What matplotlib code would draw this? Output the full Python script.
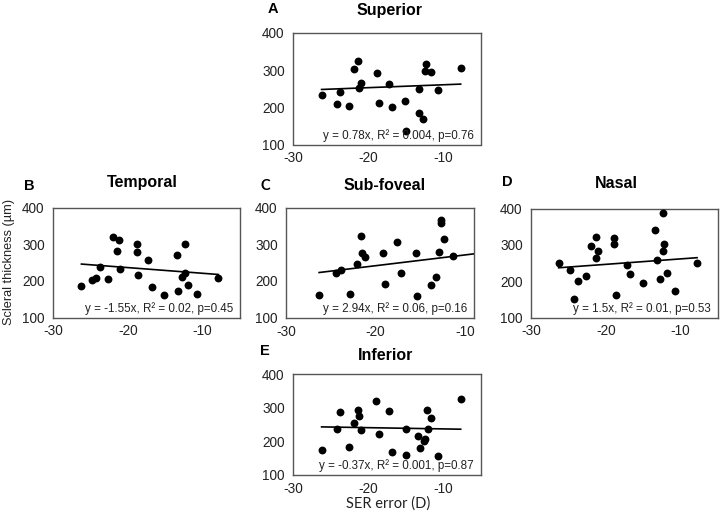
import numpy as np
import matplotlib
matplotlib.use("Agg")
import matplotlib.pyplot as plt

plt.rcParams['font.family'] = ['Liberation Sans', 'DejaVu Sans']
plt.rcParams['axes.unicode_minus'] = False

# SER error (D) and scleral thickness (um)
ser_sup = [-26.2, -24.2, -23.7, -22.6, -21.9, -21.3, -21.0, -21.2, -18.8, -18.6, -17.2,
           -16.8, -15.1, -15.0, -13.3, -13.2, -12.7, -12.3, -12.4, -11.7, -10.7, -7.7]
thk_sup = [234, 210, 240, 204, 303, 325, 266, 251, 293, 212, 264,
           201, 218, 137, 250, 185, 168, 316, 297, 295, 246, 305]

ser_tem = [-26.2, -24.8, -24.3, -23.7, -22.6, -22.0, -21.2, -21.4, -21.0, -18.8, -18.8, -18.7,
           -17.3, -16.8, -15.1, -13.4, -13.3, -12.3, -12.4, -12.7, -11.9, -10.8, -7.9]
thk_tem = [185, 203, 207, 239, 205, 320, 311, 281, 232, 301, 278, 216,
           256, 184, 162, 270, 171, 301, 222, 211, 190, 165, 208]

ser_sub = [-26.3, -24.4, -23.9, -22.8, -22.1, -21.6, -21.5, -21.2, -19.2, -18.9, -17.6,
           -17.2, -15.5, -15.4, -13.8, -13.2, -12.9, -12.7, -12.7, -12.4, -11.3]
thk_sub = [161, 223, 231, 164, 247, 322, 276, 264, 276, 192, 305,
           223, 275, 159, 188, 210, 278, 367, 357, 313, 268]

ser_nas = [-26.3, -24.8, -24.2, -23.7, -22.7, -22.0, -21.3, -21.0, -21.3, -18.9, -18.9, -18.6,
           -17.2, -16.8, -15.0, -13.4, -13.2, -12.7, -12.3, -12.2, -12.4, -11.8, -10.8, -7.8]
thk_nas = [250, 231, 152, 200, 214, 297, 321, 283, 263, 320, 302, 161,
           245, 221, 196, 342, 258, 205, 388, 301, 283, 223, 173, 250]

ser_inf = [-26.2, -24.2, -23.7, -22.6, -21.9, -21.3, -21.2, -20.9, -18.9, -18.6, -17.2, -16.8,
           -15.0, -15.0, -13.4, -13.1, -12.6, -12.4, -12.2, -12.1, -11.7, -10.7, -7.7]
thk_inf = [174, 237, 286, 182, 254, 293, 275, 234, 320, 222, 289, 168,
           238, 158, 217, 181, 202, 207, 293, 238, 268, 157, 327]

slopes = [0.78, -1.55, 2.94, 1.5, -0.37]
intercepts = [268.5, 205.1, 300.3, 276.3, 233.2]
titles = ["Superior", "Temporal", "Sub-foveal", "Nasal", "Inferior"]
letters = ["A", "B", "C", "D", "E"]
equations = ["y = 0.78x, R² = 0.004, p=0.76",
             "y = -1.55x, R² = 0.02, p=0.45",
             "y = 2.94x, R² = 0.06, p=0.16",
             "y = 1.5x, R² = 0.01, p=0.53",
             "y = -0.37x, R² = 0.001, p=0.87"]
xs = [ser_sup, ser_tem, ser_sub, ser_nas, ser_inf]
ys = [thk_sup, thk_tem, thk_sub, thk_nas, thk_inf]

W, H = 720, 516
fig = plt.figure(figsize=(7.2, 5.16), dpi=100)

# axes boxes in pixels: left, top, right, bottom
boxes = [(293, 33, 481, 144.5),
         (53, 207.5, 240, 317.5),
         (286, 207.5, 474, 317.7),
         (531, 208.5, 718, 317.5),
         (293, 374, 481, 475)]
xmax = [-5, -5, -9, -5, -5]
# letter pos, title pos (pixels)
letter_pos = [(273, 9), (29.5, 185.5), (265.5, 186), (507.5, 182), (264.5, 351)]
title_pos = [(390, 10), (142, 183), (385, 185), (616, 183), (386, 356)]

for i in range(5):
    l, t, r, b = boxes[i]
    ax = fig.add_axes([l / W, 1 - b / H, (r - l) / W, (b - t) / H])
    ax.scatter(xs[i], ys[i], s=32, color='black', zorder=3, linewidths=0)
    x0 = min(xs[i])
    x1 = xmax[i] if i == 2 else max(xs[i])
    xl = np.array([x0, x1])
    ax.plot(xl, slopes[i] * xl + intercepts[i], color='black', lw=1.2, zorder=2)
    ax.set_xlim(-30, xmax[i])
    ax.set_ylim(100, 400)
    ax.set_xticks([-30, -20, -10])
    ax.set_yticks([100, 200, 300, 400])
    ax.tick_params(length=0, labelsize=9.8, colors='#222222')
    ax.tick_params(axis='y', pad=6)
    ax.tick_params(axis='x', pad=5)
    for sp in ax.spines.values():
        sp.set_color('#555555')
        sp.set_linewidth(1.0)
    ax.text(1 - 7 / (r - l), 9 / (b - t), equations[i], transform=ax.transAxes,
            ha='right', va='center', fontsize=8.4, color='#222222')

    lx, ly = letter_pos[i]
    if letters[i] == "C":
        fig.text(lx / W, 1 - ly / H, "C", family=['Lato', 'DejaVu Sans'],
                 fontsize=10.5, fontweight='bold', ha='center', va='center')
    else:
        fig.text(lx / W, 1 - ly / H, letters[i], fontsize=10.5, fontweight='bold',
                 ha='center', va='center')
    tx, ty = title_pos[i]
    fig.text(tx / W, 1 - ty / H, titles[i], fontsize=11.5, fontweight='bold',
             ha='center', va='center')

fig.text(9 / W, 1 - 262 / H, "Scleral thickness (µm)", rotation=90,
         fontsize=9.2, ha='center', va='center', color='#222222')
fig.text(388 / W, 1 - 504 / H, "SER error (D)", family=['Lato', 'DejaVu Sans'],
         fontsize=10.5, ha='center', va='center', color='#222222')

fig.savefig("out.png", dpi=100)
